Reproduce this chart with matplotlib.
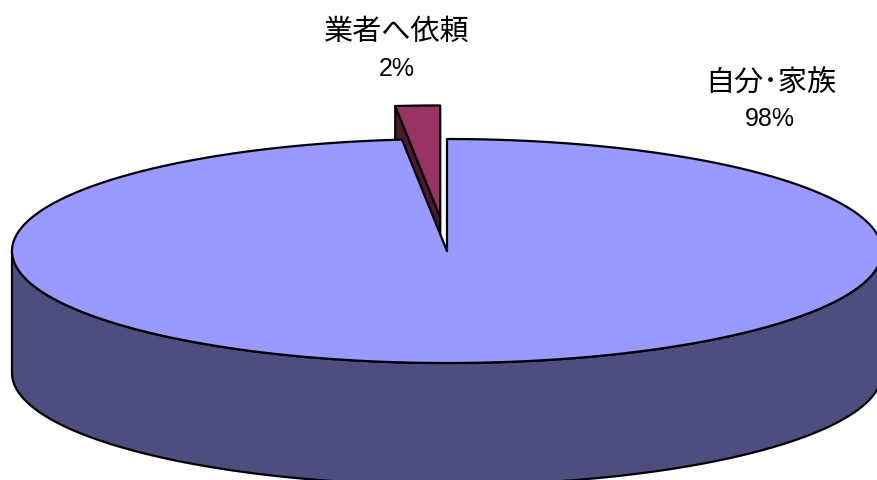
import numpy as np
import matplotlib
matplotlib.use("Agg")
import matplotlib.pyplot as plt
from matplotlib.patches import Polygon

# ---- data ----
categories = ['自分･家族', '業者へ依頼']
values = [98.35, 1.65]
pct_labels = ['98%', '2%']
explode = [0.0, 0.30]

top_colors = ['#9999FF', '#993366']
side_colors = ['#4D4D80', '#4D1A33']

# ---- geometry (pixel space) ----
W, H = 877, 481
cx, cy, rx, ry, depth = 447, 252, 435, 112, 122

fig = plt.figure(figsize=(W / 100, H / 100), dpi=100)
ax = fig.add_axes([0, 0, 1, 1])
ax.set_xlim(0, W)
ax.set_ylim(H, 0)
ax.axis('off')

def pt(theta_deg, ox=0.0, oy=0.0, dz=0.0):
    t = np.deg2rad(theta_deg)
    return (cx + ox + rx * np.cos(t), cy + oy - ry * np.sin(t) + dz)

# slice angles: start at 12 o'clock, clockwise
total = float(sum(values))
slices = []
start = 90.0
for v, e in zip(values, explode):
    sweep = 360.0 * v / total
    end = start - sweep
    mid = np.deg2rad((start + end) / 2)
    ox = e * rx * np.cos(mid)
    oy = -e * ry * np.sin(mid)
    slices.append((end, start, ox, oy))  # angle range [end, start] ccw
    start = end

lw = 1.6

def draw_slice(i, zbase):
    a0, a1, ox, oy = slices[i]
    while a1 <= a0:
        a1 += 360
    # radial faces, visible if their outward normal points to the viewer
    for ang, sign in ((a0, -1), (a1, 1)):
        nrm = np.deg2rad(ang + sign * 90)
        if np.sin(nrm) < -1e-6:
            c = (cx + ox, cy + oy)
            p = pt(ang, ox, oy)
            poly = [c, p, (p[0], p[1] + depth), (c[0], c[1] + depth)]
            ax.add_patch(Polygon(poly, closed=True, fc=side_colors[i], ec='black',
                                 lw=lw, joinstyle='round', zorder=zbase))
    # outer wall: front part (angles in 180..360 modulo 360)
    for base in (-360, 0, 360):
        lo = max(a0, 180 + base)
        hi = min(a1, 360 + base)
        if hi > lo:
            th = np.linspace(lo, hi, 300)
            topp = [pt(t, ox, oy) for t in th]
            botp = [pt(t, ox, oy, depth) for t in th[::-1]]
            ax.add_patch(Polygon(topp + botp, closed=True, fc=side_colors[i], ec='black',
                                 lw=lw, joinstyle='round', zorder=zbase + 1))
    # top face
    th = np.linspace(a0, a1, 600)
    poly = [(cx + ox, cy + oy)] + [pt(t, ox, oy) for t in th]
    ax.add_patch(Polygon(poly, closed=True, fc=top_colors[i], ec='black',
                         lw=lw, joinstyle='round', zorder=zbase + 2))

# back (exploded small) slice first, then the big one
draw_slice(1, 1)
draw_slice(0, 10)

# ---- labels ----
jp = ['Noto Sans CJK JP', 'DejaVu Sans']
num = ['Liberation Sans', 'DejaVu Sans']
ax.text(397, 32, categories[1], family=jp, fontsize=21, ha='center', va='center', zorder=30)
ax.text(397, 69, pct_labels[1], family=num, fontsize=18, ha='center', va='center', zorder=30)
ax.text(771, 84, categories[0], family=jp, fontsize=21, ha='center', va='center', zorder=30)
ax.text(770, 119, pct_labels[0], family=num, fontsize=18, ha='center', va='center', zorder=30)

fig.savefig('out.png', dpi=100, facecolor='white')
